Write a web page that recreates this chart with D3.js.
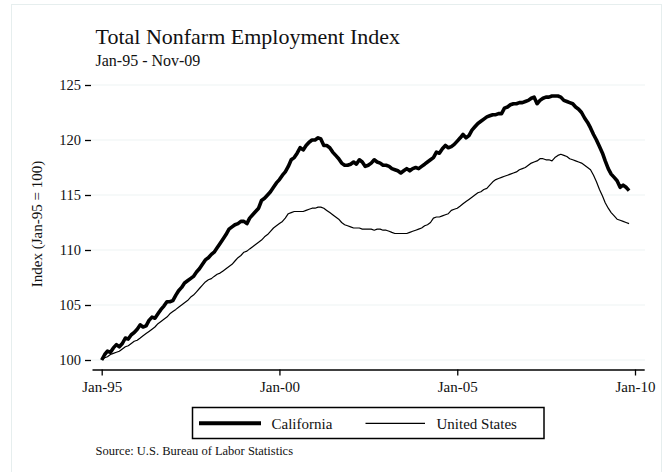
<!DOCTYPE html>
<html>
<head>
<meta charset="utf-8">
<script src="https://cdn.jsdelivr.net/npm/d3@7"></script>
<style>
    body { margin: 0; background: #fff; }
    svg { display: block; font-family: "Liberation Serif", "DejaVu Serif", serif; }
</style>
</head>
<body>
<svg id="chart" width="665" height="472"></svg>
<script>

// monthly index values, Jan-95 .. Nov-09 (Jan-95 = 100)
var months = d3.timeMonth.range(new Date(1995, 0, 1), new Date(2009, 11, 1));

var california = [
    100.0, 100.5, 100.8, 100.7, 101.1, 101.4, 101.2, 101.5, 102.0, 101.9, 102.3, 102.5,
    102.8, 103.2, 103.0, 103.1, 103.6, 103.9, 103.8, 104.2, 104.6, 104.9, 105.3, 105.3,
    105.4, 105.9, 106.3, 106.6, 107.0, 107.2, 107.4, 107.6, 108.0, 108.3, 108.7, 109.1,
    109.3, 109.6, 109.8, 110.2, 110.6, 111.0, 111.4, 111.9, 112.1, 112.3, 112.4, 112.6,
    112.6, 112.4, 112.9, 113.2, 113.5, 113.8, 114.5, 114.7, 115.0, 115.3, 115.7, 116.1,
    116.4, 116.8, 117.1, 117.6, 118.2, 118.4, 118.8, 119.3, 119.1, 119.5, 119.8, 120.0,
    120.0, 120.2, 120.1, 119.5, 119.5, 119.3, 118.9, 118.6, 118.3, 117.9, 117.7, 117.7,
    117.8, 118.0, 117.8, 118.2, 118.0, 117.6, 117.7, 117.9, 118.2, 118.0, 117.9, 117.7,
    117.7, 117.6, 117.4, 117.3, 117.2, 117.0, 117.2, 117.4, 117.2, 117.4, 117.5, 117.4,
    117.6, 117.8, 118.0, 118.2, 118.4, 118.9, 118.8, 119.2, 119.5, 119.3, 119.4, 119.6,
    119.9, 120.2, 120.5, 120.2, 120.4, 120.9, 121.2, 121.5, 121.7, 121.9, 122.1, 122.2,
    122.3, 122.3, 122.4, 122.4, 122.9, 123.0, 123.2, 123.3, 123.3, 123.4, 123.4, 123.5,
    123.6, 123.8, 123.9, 123.3, 123.6, 123.8, 123.9, 123.9, 124.0, 124.0, 124.0, 123.9,
    123.6, 123.5, 123.4, 123.3, 123.0, 122.8, 122.5, 122.0, 121.6, 121.1, 120.5, 120.0,
    119.4, 118.8, 118.1, 117.4, 116.9, 116.6, 116.3, 115.7, 115.9, 115.7, 115.4
];

var unitedStates = [
    100.0, 100.2, 100.3, 100.5, 100.6, 100.7, 100.8, 101.0, 101.2, 101.3, 101.5, 101.7,
    101.8, 102.0, 102.2, 102.4, 102.6, 102.8, 103.0, 103.3, 103.5, 103.7, 103.9, 104.2,
    104.4, 104.6, 104.8, 105.0, 105.2, 105.4, 105.7, 105.9, 106.2, 106.5, 106.8, 107.1,
    107.3, 107.4, 107.6, 107.8, 107.9, 108.1, 108.3, 108.5, 108.7, 109.0, 109.3, 109.5,
    109.8, 109.9, 110.1, 110.3, 110.5, 110.7, 110.9, 111.2, 111.4, 111.7, 112.0, 112.2,
    112.4, 112.6, 112.9, 113.3, 113.4, 113.5, 113.5, 113.5, 113.5, 113.6, 113.7, 113.8,
    113.8, 113.9, 113.9, 113.8, 113.6, 113.4, 113.2, 113.0, 112.8, 112.5, 112.3, 112.2,
    112.1, 112.0, 112.0, 112.0, 111.9, 111.9, 111.9, 111.9, 111.8, 111.9, 111.9, 111.8,
    111.8, 111.7, 111.6, 111.5, 111.5, 111.5, 111.5, 111.5, 111.6, 111.7, 111.8, 111.9,
    112.0, 112.2, 112.3, 112.5, 112.9, 113.0, 113.0, 113.1, 113.2, 113.3, 113.6, 113.7,
    113.8, 114.0, 114.2, 114.4, 114.6, 114.8, 115.0, 115.2, 115.3, 115.5, 115.6, 115.9,
    116.2, 116.4, 116.5, 116.6, 116.7, 116.8, 116.9, 117.0, 117.1, 117.3, 117.4, 117.5,
    117.7, 117.9, 118.0, 118.1, 118.3, 118.3, 118.2, 118.2, 118.1, 118.4, 118.6, 118.7,
    118.6, 118.5, 118.3, 118.2, 118.1, 118.0, 117.9, 117.7, 117.5, 117.3, 116.8, 116.2,
    115.5, 114.9, 114.3, 113.8, 113.4, 113.1, 112.8, 112.7, 112.6, 112.5, 112.4
];

var yTicks = [100, 105, 110, 115, 120, 125];
var xTicks = [new Date(1995, 0, 1), new Date(2000, 0, 1), new Date(2005, 0, 1), new Date(2010, 0, 1)];
var seriesNames = ["California", "United States"];

var svg = d3.select("#chart");

var x = d3.scaleTime()
    .domain([new Date(1995, 0, 1), new Date(2010, 0, 1)])
    .range([101.7, 635]);

var y = d3.scaleLinear()
    .domain([100, 125])
    .range([360, 85]);

var fmt = d3.timeFormat("%b-%y");

// faint outer frame
svg.append("rect")
    .attr("x", 11.5).attr("y", 4.5)
    .attr("width", 650).attr("height", 480)
    .attr("fill", "none")
    .attr("stroke", "#e6eeee");

// gridlines
svg.append("g")
    .selectAll("line")
    .data(yTicks)
    .enter().append("line")
    .attr("x1", 91).attr("x2", 645)
    .attr("y1", function(d) { return y(d); })
    .attr("y2", function(d) { return y(d); })
    .attr("stroke", "#edf3f3")
    .attr("stroke-width", 1.2);

// y axis: ticks only, no domain line
var yAxis = svg.append("g")
    .attr("transform", "translate(91,0)")
    .call(d3.axisLeft(y).tickValues(yTicks).tickSize(6).tickPadding(4));
yAxis.select(".domain").remove();
yAxis.selectAll(".tick line").attr("stroke", "#000").attr("stroke-width", 1.3);
yAxis.selectAll(".tick text")
    .attr("font-family", "Liberation Serif, serif")
    .attr("font-size", 14.5)
    .attr("fill", "#111");

// x axis
var xAxis = svg.append("g")
    .attr("transform", "translate(0,369.5)")
    .call(d3.axisBottom(x).tickValues(xTicks).tickFormat(fmt).tickSize(6).tickPadding(6));
xAxis.select(".domain")
    .attr("d", "M92.5,0.5H644.7")
    .attr("stroke", "#000")
    .attr("stroke-width", 1.5);
xAxis.selectAll(".tick line").attr("stroke", "#000").attr("stroke-width", 1.3);
xAxis.selectAll(".tick text")
    .attr("font-family", "Liberation Serif, serif")
    .attr("font-size", 15)
    .attr("fill", "#111");

// lines
var line = d3.line()
    .x(function(d, i) { return x(months[i]); })
    .y(function(d) { return y(d); });

svg.append("path")
    .datum(unitedStates)
    .attr("fill", "none")
    .attr("stroke", "#000")
    .attr("stroke-width", 1.2)
    .attr("stroke-linejoin", "round")
    .attr("d", line);

svg.append("path")
    .datum(california)
    .attr("fill", "none")
    .attr("stroke", "#000")
    .attr("stroke-width", 3.6)
    .attr("stroke-linejoin", "round")
    .attr("d", line);

// titles
svg.append("text")
    .attr("x", 95.5).attr("y", 43.5)
    .attr("font-size", 22)
    .attr("fill", "#111")
    .text("Total Nonfarm Employment Index");

svg.append("text")
    .attr("x", 95.5).attr("y", 66)
    .attr("font-size", 16)
    .attr("fill", "#111")
    .text("Jan-95 - Nov-09");

svg.append("text")
    .attr("transform", "translate(42,224) rotate(-90)")
    .attr("text-anchor", "middle")
    .attr("font-size", 15)
    .attr("fill", "#111")
    .text("Index (Jan-95 = 100)");

// legend
var legend = svg.append("g");
legend.append("rect")
    .attr("x", 192.5).attr("y", 407.5)
    .attr("width", 351.5).attr("height", 31)
    .attr("fill", "#fff")
    .attr("stroke", "#000")
    .attr("stroke-width", 1.5);

var legendItems = [
    { x1: 199, x2: 261, tx: 271.5, w: 4 },
    { x1: 365.5, x2: 425, tx: 436.5, w: 1.2 }
];

legend.selectAll("line.key")
    .data(legendItems)
    .enter().append("line")
    .attr("class", "key")
    .attr("x1", function(d) { return d.x1; })
    .attr("x2", function(d) { return d.x2; })
    .attr("y1", 423.3).attr("y2", 423.3)
    .attr("stroke", "#000")
    .attr("stroke-width", function(d) { return d.w; });

legend.selectAll("text")
    .data(legendItems)
    .enter().append("text")
    .attr("x", function(d) { return d.tx; })
    .attr("y", 428.5)
    .attr("font-size", 15)
    .attr("fill", "#111")
    .text(function(d, i) { return seriesNames[i]; });

svg.append("text")
    .attr("x", 95.5).attr("y", 455)
    .attr("font-size", 12.5)
    .attr("fill", "#111")
    .text("Source: U.S. Bureau of Labor Statistics");

</script>
</body>
</html>
